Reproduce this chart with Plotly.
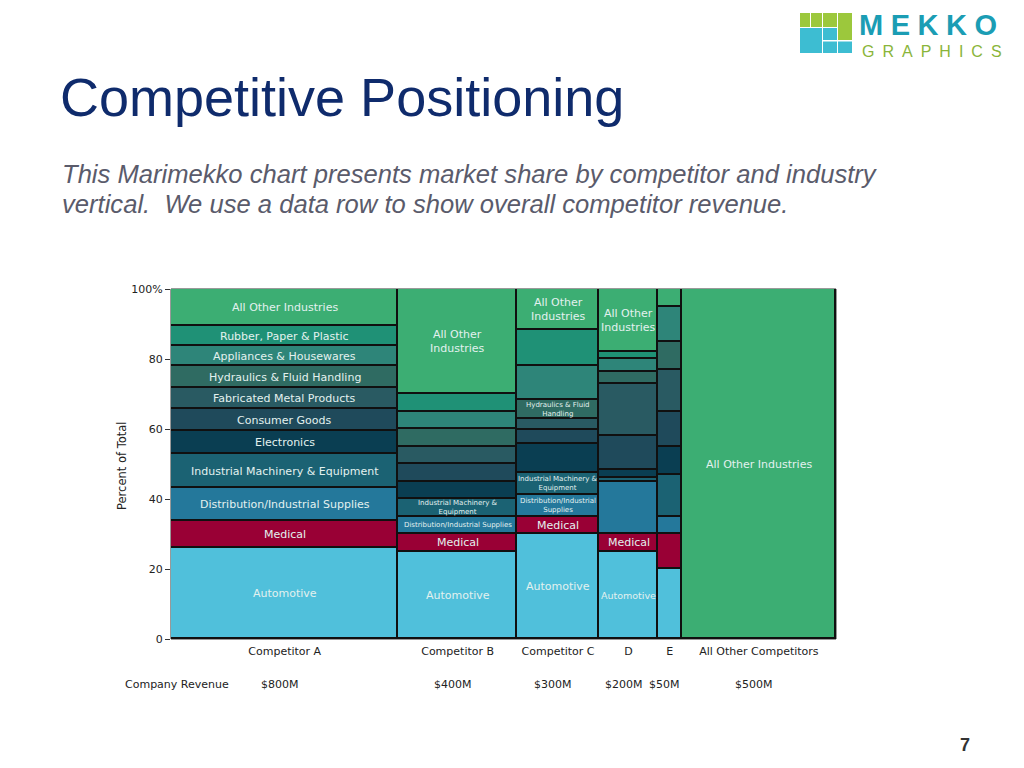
import plotly.graph_objects as go

# ---------------- data ----------------
industries = [
    "Automotive", "Medical", "Distribution/Industrial Supplies",
    "Industrial Machinery & Equipment", "Electronics", "Consumer Goods",
    "Fabricated Metal Products", "Hydraulics & Fluid Handling",
    "Appliances & Housewares", "Rubber, Paper & Plastic", "All Other Industries",
]
industry_colors = [
    "#50c0db", "#990035", "#24789b", "#1b6273", "#0a3e52", "#1f4a5b",
    "#295a62", "#2f6b62", "#2e8579", "#1f9176", "#3cae73",
]

competitors = ["Competitor A", "Competitor B", "Competitor C", "D", "E", "All Other Competitors"]
revenue_labels = ["$800M", "$400M", "$300M", "$200M", "$50M", "$500M"]
column_width_pct = [34.2, 17.8, 12.4, 8.8, 3.6, 23.2]

# percent share of each industry within each competitor (bottom -> top, same order as industries)
share_a = [25.9, 7.7, 9.5, 9.7, 6.5, 6.5, 6.0, 6.1, 5.8, 5.6, 10.7]
share_b = [25.0, 5.0, 5.0, 5.0, 5.0, 5.0, 5.0, 5.0, 5.0, 5.0, 30.0]
share_c = [30.0, 5.0, 6.2, 6.2, 8.4, 4.0, 3.1, 5.3, 9.9, 10.1, 11.8]
share_d = [25.0, 5.0, 15.0, 1.0, 2.4, 9.6, 15.0, 3.3, 3.8, 2.0, 17.9]
share_e = [20.0, 10.0, 5.0, 12.0, 8.0, 10.0, 12.0, 8.0, 10.0, 0.0, 5.0]
share_other = [0, 0, 0, 0, 0, 0, 0, 0, 0, 0, 100.0]
shares = [share_a, share_b, share_c, share_d, share_e, share_other]

labels_a = [
    "Automotive", "Medical", "Distribution/Industrial Supplies",
    "Industrial Machinery & Equipment", "Electronics", "Consumer Goods",
    "Fabricated Metal Products", "Hydraulics & Fluid Handling",
    "Appliances & Housewares", "Rubber, Paper & Plastic", "All Other Industries",
]
labels_b = ["Automotive", "Medical", "Distribution/Industrial Supplies",
            "Industrial Machinery &<br>Equipment", "", "", "", "", "", "",
            "All Other<br>Industries"]
labels_c = ["Automotive", "Medical", "Distribution/Industrial<br>Supplies",
            "Industrial Machinery &<br>Equipment", "", "", "",
            "Hydraulics & Fluid<br>Handling", "", "", "All Other<br>Industries"]
labels_d = ["Automotive", "Medical", "", "", "", "", "", "", "", "", "All Other<br>Industries"]
labels_e = [""] * 11
labels_other = [""] * 10 + ["All Other Industries"]
segment_labels = [labels_a, labels_b, labels_c, labels_d, labels_e, labels_other]

y_tick_vals = [0, 20, 40, 60, 80, 100]
y_tick_text = ["0", "20", "40", "60", "80", "100%"]

# ---------------- style ----------------
CHART_FONT = "DejaVu Sans"
small_label_size = {(1, 2): 7, (1, 3): 7, (2, 2): 7, (2, 3): 7, (2, 7): 7, (3, 0): 9.5}

OFF = 8                      # page body margin of the browser
FW, FH = 1024 - 2 * OFF, 768 - 2 * OFF
# plot area in screen pixels
L, R, T, B = 171, 836, 289, 639


def px(x):
    return (x - L) / (R - L)


def py(y):
    return (B - y) / (B - T)


# column geometry from widths
centers = []
acc = 0.0
for w in column_width_pct:
    centers.append(acc + w / 2)
    acc += w

fig = go.Figure()
for i, ind in enumerate(industries):
    vals = [s[i] if s[i] > 0 else None for s in shares]
    fig.add_trace(go.Bar(
        x=centers, y=vals, width=column_width_pct, name=ind,
        marker=dict(color=industry_colors[i], line=dict(color="#101010", width=1.6)),
        hoverinfo="skip", showlegend=False,
    ))

annotations = []
for c, s in enumerate(shares):
    base = 0.0
    for i, v in enumerate(s):
        txt = segment_labels[c][i]
        if txt and v > 0:
            annotations.append(dict(
                x=centers[c], y=base + v / 2, xref="x", yref="y", text=txt,
                showarrow=False,
                font=dict(family=CHART_FONT, size=small_label_size.get((c, i), 11), color="#e3f1ef"),
                xanchor="center", yanchor="middle",
            ))
        base += v

# y-axis title
annotations.append(dict(x=px(122), y=py(466), xref="paper", yref="paper", text="Percent of Total",
                        textangle=-90, showarrow=False, font=dict(family=CHART_FONT, size=11.5, color="#222"),
                        xanchor="center", yanchor="middle"))

# data row: company revenue
annotations.append(dict(x=px(177), y=py(684), xref="paper", yref="paper", text="Company Revenue",
                        showarrow=False, font=dict(family=CHART_FONT, size=11, color="#222"),
                        xanchor="center", yanchor="middle"))
for c, lab in enumerate(revenue_labels):
    annotations.append(dict(x=centers[c], y=py(684), xref="x", yref="paper", text=lab, xshift=-5,
                            showarrow=False, font=dict(family=CHART_FONT, size=11, color="#222"),
                            xanchor="center", yanchor="middle"))

# title and subtitle
annotations.append(dict(x=px(58), y=py(97), xref="paper", yref="paper", text="Competitive Positioning",
                        showarrow=False, xanchor="left", yanchor="middle",
                        font=dict(family="Liberation Sans", size=54, color="#0f2b6c")))
annotations.append(dict(x=px(60), y=py(174), xref="paper", yref="paper",
                        text="<i>This Marimekko chart presents market share by competitor and industry</i>",
                        showarrow=False, xanchor="left", yanchor="middle",
                        font=dict(family="Liberation Sans", size=25.6, color="#5a5b6b")))
annotations.append(dict(x=px(60), y=py(204), xref="paper", yref="paper",
                        text="<i>vertical.  We use a data row to show overall competitor revenue.</i>",
                        showarrow=False, xanchor="left", yanchor="middle",
                        font=dict(family="Liberation Sans", size=25.6, color="#5a5b6b")))

# logo text
annotations.append(dict(x=px(857), y=py(25), xref="paper", yref="paper",
                        text="<b><span style='letter-spacing:7.5px'>MEKKO</span></b>",
                        showarrow=False, xanchor="left", yanchor="middle",
                        font=dict(family="Liberation Sans", size=29, color="#1b9db4")))
annotations.append(dict(x=px(860), y=py(51), xref="paper", yref="paper",
                        text="<span style='letter-spacing:8px'>GRAPHICS</span>",
                        showarrow=False, xanchor="left", yanchor="middle",
                        font=dict(family="Liberation Sans", size=16, color="#8ab53a")))
# page number
annotations.append(dict(x=px(965), y=py(745), xref="paper", yref="paper", text="<b>7</b>",
                        showarrow=False, xanchor="center", yanchor="middle",
                        font=dict(family="Liberation Sans", size=18, color="#333")))

# logo blocks (screen pixels)
logo_blocks = [
    (800, 810, 13, 27, "#9cc83c"), (811, 822, 13, 27, "#9cc83c"), (823, 837, 13, 27, "#9cc83c"),
    (838, 852, 13, 40, "#9cc83c"), (800, 822, 28, 53, "#3dbdd2"), (823, 837, 28, 40, "#3dbdd2"),
    (823, 837, 41.5, 53, "#3dbdd2"), (838, 852, 41.5, 53, "#3dbdd2"),
]
shapes = []
for x0, x1, y0, y1, col in logo_blocks:
    shapes.append(dict(type="rect", xref="paper", yref="paper", x0=px(x0), x1=px(x1), y0=py(y1), y1=py(y0),
                       fillcolor=col, line=dict(width=0), layer="above"))
# plot frame
shapes.append(dict(type="rect", xref="paper", yref="paper", x0=0, x1=1, y0=0, y1=1,
                   line=dict(color="#333", width=1), fillcolor="rgba(0,0,0,0)", layer="below"))

fig.update_layout(
    width=FW, height=FH, autosize=False,
    margin=dict(l=L - OFF, r=FW - (R - OFF), t=T - OFF, b=FH - (B - OFF), pad=0),
    paper_bgcolor="white", plot_bgcolor="white",
    barmode="stack", bargap=0,
    font=dict(family=CHART_FONT, size=11, color="#222"),
    annotations=annotations, shapes=shapes,
    xaxis=dict(range=[0, 100], tickvals=centers, ticktext=competitors, ticks="", showgrid=False,
               zeroline=False, showline=False, ticklabelstandoff=4,
               tickfont=dict(family=CHART_FONT, size=11, color="#222")),
    yaxis=dict(range=[0, 100], tickvals=y_tick_vals, ticktext=y_tick_text, ticks="outside", ticklen=5,
               tickcolor="#333", showgrid=False, zeroline=False, showline=False,
               tickfont=dict(family=CHART_FONT, size=11, color="#222")),
)

fig.write_html("out.html")
